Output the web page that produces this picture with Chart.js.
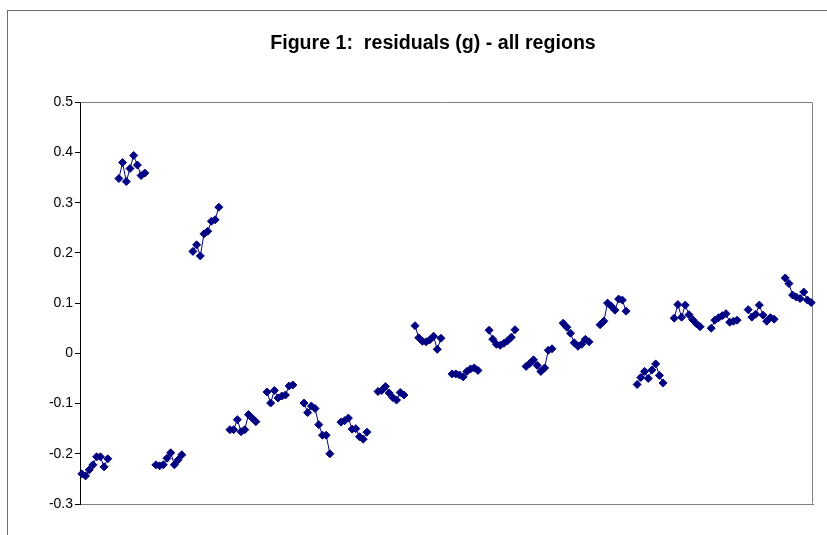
<!DOCTYPE html>
<html><head><meta charset="utf-8">
<script src="https://cdn.jsdelivr.net/npm/chart.js@4.4.1/dist/chart.umd.min.js"></script>
<style>
html,body{margin:0;padding:0;background:#fff;overflow:hidden;width:827px;height:535px}
#frame{position:absolute;left:7px;top:10px;width:900px;height:600px;border:1px solid #6e6e6e;box-sizing:border-box}
#c{position:absolute;left:0;top:0}
</style></head><body>
<div id="frame"></div>
<canvas id="c" width="827" height="535"></canvas>
<script>
// residuals (g), 8 observations per region
const region01 = [-0.240, -0.244, -0.232, -0.222, -0.206, -0.206, -0.226, -0.210];
const region02 = [0.348, 0.380, 0.342, 0.368, 0.394, 0.375, 0.354, 0.359];
const region03 = [-0.222, -0.224, -0.222, -0.209, -0.198, -0.222, -0.212, -0.202];
const region04 = [0.203, 0.216, 0.194, 0.238, 0.243, 0.263, 0.266, 0.291];
const region05 = [-0.152, -0.152, -0.132, -0.156, -0.152, -0.122, -0.129, -0.136];
const region06 = [-0.077, -0.099, -0.074, -0.089, -0.085, -0.083, -0.065, -0.063];
const region07 = [-0.099, -0.118, -0.105, -0.110, -0.142, -0.163, -0.163, -0.200];
const region08 = [-0.137, -0.134, -0.129, -0.151, -0.150, -0.166, -0.171, -0.157];
const region09 = [-0.076, -0.074, -0.066, -0.079, -0.088, -0.093, -0.078, -0.083];
const region10 = [0.055, 0.031, 0.024, 0.023, 0.027, 0.034, 0.008, 0.030];
const region11 = [-0.041, -0.041, -0.043, -0.047, -0.036, -0.031, -0.029, -0.034];
const region12 = [0.046, 0.028, 0.018, 0.016, 0.020, 0.025, 0.032, 0.047];
const region13 = [-0.026, -0.020, -0.013, -0.024, -0.036, -0.029, 0.006, 0.009];
const region14 = [0.060, 0.052, 0.040, 0.021, 0.014, 0.018, 0.028, 0.023];
const region15 = [0.057, 0.064, 0.100, 0.094, 0.086, 0.108, 0.106, 0.084];
const region16 = [-0.062, -0.048, -0.036, -0.050, -0.033, -0.021, -0.044, -0.059];
const region17 = [0.070, 0.097, 0.072, 0.096, 0.077, 0.067, 0.059, 0.053];
const region18 = [0.050, 0.066, 0.071, 0.075, 0.079, 0.062, 0.064, 0.066];
const region19 = [0.087, 0.072, 0.078, 0.096, 0.076, 0.064, 0.071, 0.068];
const region20 = [0.150, 0.139, 0.116, 0.112, 0.109, 0.122, 0.106, 0.101];

const regions = [region01, region02, region03, region04, region05, region06, region07,
  region08, region09, region10, region11, region12, region13, region14, region15,
  region16, region17, region18, region19, region20];
const gapSize = 2; // empty categories between regions
const yTickLabels = ['-0.3', '-0.2', '-0.1', '0', '0.1', '0.2', '0.3', '0.4', '0.5'];
const titleText = 'Figure 1:  residuals (g) - all regions';

const labels = [];
const values = [];
regions.forEach((r, ri) => {
  r.forEach((v, i) => { labels.push('R' + (ri + 1) + '-' + (i + 1)); values.push(v); });
  if (ri < regions.length - 1) {
    for (let g = 0; g < gapSize; g++) { labels.push(''); values.push(null); }
  }
});

const plotFrame = {
  id: 'plotFrame',
  afterLayout(chart) {
    // let the y tick labels extend to the left of the axis box without clipping
    chart.scales.y.left = 0;
  },
  beforeDatasetsDraw(chart) {
    const { ctx, chartArea: a } = chart;
    ctx.save();
    ctx.strokeStyle = '#808080';
    ctx.lineWidth = 1;
    const l = Math.round(a.left) + 0.5, r = Math.round(a.right) - 0.5, t = Math.round(a.top) + 0.5, b = Math.round(a.bottom) - 0.5;
    ctx.beginPath();
    ctx.moveTo(l, t); ctx.lineTo(r, t); ctx.lineTo(r, b);
    ctx.stroke();
    ctx.restore();
  }
};

new Chart(document.getElementById('c'), {
  type: 'line',
  data: {
    labels: labels,
    datasets: [{
      data: values,
      borderColor: '#000080',
      borderWidth: 1,
      pointStyle: 'rectRot',
      pointRadius: 4,
      pointBorderWidth: 1,
      pointBackgroundColor: '#000080',
      pointBorderColor: '#000080',
      spanGaps: false,
      tension: 0,
      clip: false
    }]
  },
  options: {
    responsive: false,
    animation: false,
    devicePixelRatio: 1,
    layout: { padding: { left: 53, right: 14, top: 0, bottom: 31 } },
    plugins: {
      legend: { display: false },
      tooltip: { enabled: false },
      title: {
        display: true,
        text: titleText,
        color: '#000',
        font: { family: "'Liberation Sans', Arial, sans-serif", size: 19.6, weight: 'bold' },
        padding: { top: 32.2, bottom: 46.5 }
      }
    },
    scales: {
      x: {
        type: 'category',
        offset: true,
        grid: { display: false, drawTicks: false },
        ticks: { display: false },
        border: { display: true, color: '#808080', width: 1 }
      },
      y: {
        min: -0.3,
        max: 0.5,
        afterFit(scale) { scale.width = 27; },
        ticks: {
          stepSize: 0.1,
          padding: 2,
          color: '#000',
          font: { family: "'Liberation Sans', Arial, sans-serif", size: 14 },
          callback: (v) => yTickLabels[Math.round((v + 0.3) * 10)]
        },
        grid: { drawOnChartArea: false, drawTicks: true, tickLength: 5, color: '#000' },
        border: { display: true, color: '#000', width: 1 }
      }
    }
  },
  plugins: [plotFrame]
});
</script>
</body></html>
